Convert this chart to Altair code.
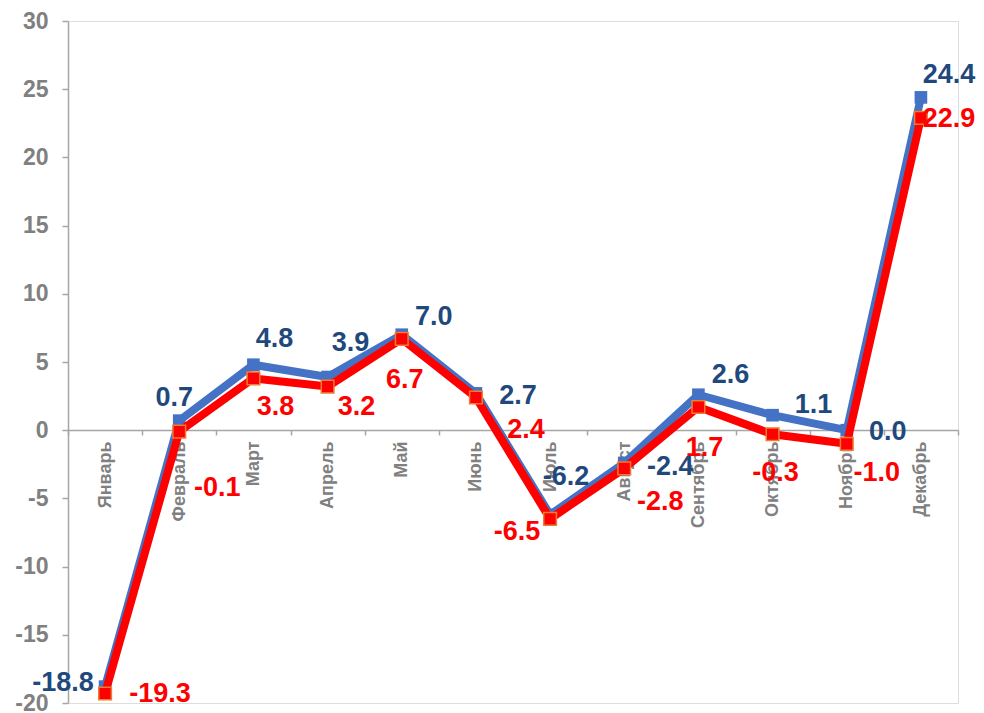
import altair as alt
import pandas as pd

months = ["Январь", "Февраль", "Март", "Апрель", "Май", "Июнь",
          "Июль", "Август", "Сентябрь", "Октябрь", "Ноябрь", "Декабрь"]
blue_values = [-18.8, 0.7, 4.8, 3.9, 7.0, 2.7, -6.2, -2.4, 2.6, 1.1, 0.0, 24.4]
red_values = [-19.3, -0.1, 3.8, 3.2, 6.7, 2.4, -6.5, -2.8, 1.7, -0.3, -1.0, 22.9]
y_ticks = [-20, -15, -10, -5, 0, 5, 10, 15, 20, 25, 30]

# label placement offsets (pixels)
blue_dx = [-42, -5, 21, 23, 32, 42, 16, 46, 32, 41, 41, 28]
blue_dy = [-4, -23, -26, -34, -18, 3, -38, 4, -20, -10, 2, -22]
red_dx = [55, 38, 22, 29, 3, 50, -33, 36, 6, 3, 30, 28]
red_dy = [1, 56, 29, 20, 41, 33, 13, 34, 41, 39, 29, 1]

BLUE = "#4472C4"
BLUE_TXT = "#1F497D"
RED = "#FF0000"
GRAY = "#808080"
AXIS = "#A6A6A6"
FONT = "Liberation Sans"
MINUS_FIX = "replace(datum.label, '\u2212', '-')"

df_blue = pd.DataFrame({"month": months, "value": blue_values})
df_red = pd.DataFrame({"month": months, "value": red_values})

x_enc = alt.X(
    "month:N", sort=months, bandPosition=0.5,
    scale=alt.Scale(type="band", domain=months, paddingInner=0, paddingOuter=0),
    axis=alt.Axis(title=None, offset=-273, labelAngle=-90, tickBand="extent",
                  labelFontSize=18, labelFontWeight="bold", labelColor=GRAY,
                  labelFont=FONT, labelAlign="right", labelBaseline="middle",
                  domainColor=AXIS, tickColor=AXIS, tickSize=5, labelPadding=6,
                  domainWidth=1.5, tickWidth=1.5),
)
y_enc = alt.Y(
    "value:Q",
    scale=alt.Scale(domain=[-20, 30], nice=False, zero=False),
    axis=alt.Axis(title=None, values=y_ticks, grid=False, labelFontSize=23,
                  labelFontWeight="bold", labelColor=GRAY, labelFont=FONT,
                  labelExpr=MINUS_FIX,
                  domainColor=AXIS, tickColor=AXIS, tickSize=6, labelPadding=14,
                  domainWidth=1.5, tickWidth=1.5),
)

blue_line = alt.Chart(df_blue).mark_line(color=BLUE, strokeWidth=8, strokeJoin="round").encode(x=x_enc, y=y_enc)
blue_pts = alt.Chart(df_blue).mark_square(color=BLUE, size=160, opacity=1).encode(x=x_enc, y=y_enc)
red_line = alt.Chart(df_red).mark_line(color=RED, strokeWidth=8, strokeJoin="round").encode(x=x_enc, y=y_enc)
red_pts = alt.Chart(df_red).mark_square(color=RED, size=160, opacity=1, filled=True,
                                        stroke="#ED7D31", strokeWidth=1.5).encode(x=x_enc, y=y_enc)

layers = [blue_line, blue_pts, red_line, red_pts]

label_expr = "replace(format(datum.value, '.1f'), '\u2212', '-')"

for i in range(len(months)):
    row_b = df_blue.iloc[[i]]
    layers.append(
        alt.Chart(row_b).transform_calculate(label=label_expr)
        .mark_text(fontSize=27, fontWeight="bold", font=FONT, color=BLUE_TXT,
                   dx=blue_dx[i], dy=blue_dy[i], align="center", baseline="middle")
        .encode(x=x_enc, y=y_enc, text="label:N")
    )
    row_r = df_red.iloc[[i]]
    layers.append(
        alt.Chart(row_r).transform_calculate(label=label_expr)
        .mark_text(fontSize=27, fontWeight="bold", font=FONT, color=RED,
                   dx=red_dx[i], dy=red_dy[i], align="center", baseline="middle")
        .encode(x=x_enc, y=y_enc, text="label:N")
    )

chart = alt.layer(*layers).properties(
    width=890, height=682,
    autosize=alt.AutoSizeParams(type="none"),
    padding={"left": 60, "top": 13, "right": 18, "bottom": 10},
).configure_view(stroke=None).configure(background="white")

chart.save("out.html", embed_options={"renderer": "svg", "actions": False})
